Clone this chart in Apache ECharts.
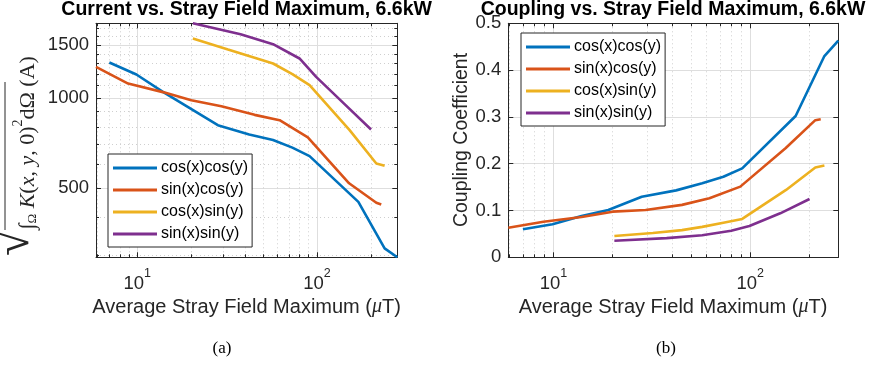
<!DOCTYPE html>
<html>
<head>
<meta charset="utf-8">
<script src="https://cdn.jsdelivr.net/npm/echarts@6/dist/echarts.min.js"></script>
<style>
html,body{margin:0;padding:0;background:#fff;}
#c{width:872px;height:366px;}
</style>
</head>
<body>
<div id="c"></div>
<script>
// ---- data ----
const seriesNames = ['cos(x)cos(y)', 'sin(x)cos(y)', 'cos(x)sin(y)', 'sin(x)sin(y)'];
const strayBlue   = [7.0, 9.9, 13.9, 19, 28.1, 42, 57, 73, 91, 170, 238, 280];
const currentBlue = [1311, 1196, 1047, 935, 811, 755, 724, 683, 640, 451, 316, 295];
const couplingBlue = [0.060, 0.0705, 0.088, 0.101, 0.1295, 0.143, 0.158, 0.172, 0.190, 0.302, 0.430, 0.463];

const strayRed   = [5.9, 8.9, 13.9, 20, 29.4, 45, 62, 89, 151, 214, 228];
const currentRed = [1268, 1116, 1045, 982, 938, 878, 843, 739, 520, 448, 442];
const couplingRed = [0.0633, 0.076, 0.086, 0.0975, 0.101, 0.112, 0.126, 0.151, 0.233, 0.293, 0.295];

const strayYellow   = [20.4, 32, 45, 57, 73, 91, 152, 214, 238];
const currentYellow = [1575, 1448, 1360, 1301, 1200, 1102, 781, 605, 595];
const couplingYellow = [0.0455, 0.052, 0.058, 0.065, 0.074, 0.082, 0.144, 0.192, 0.196];

const strayPurple   = [20.4, 37.6, 57, 80, 99, 142, 200];
const currentPurple = [1770, 1628, 1508, 1352, 1174, 955, 785];
const couplingPurple = [0.0355, 0.041, 0.047, 0.0568, 0.067, 0.094, 0.1246];

const xMajorTicks = [10, 100];
const xMinorTicks = [6, 7, 8, 9, 20, 30, 40, 50, 60, 70, 80, 90, 200];
const currentMajorTicks = [500, 1000, 1500];
const currentMinorTicks = [300, 400, 600, 700, 800, 900, 1100, 1200, 1300, 1400, 1600, 1700];
const xRange = [5.9, 280];
const currentRange = [295, 1770];
const couplingRange = [0, 0.5];

// ---- styling ----
const COLORS = ['#0072BD', '#D95319', '#EDB120', '#7E2F8E'];
const AX = '#262626';
const MAJ = '#dedede';
const MIN = '#cfcfcf';
const SANS = '"Liberation Sans", Arial, Helvetica, sans-serif';
const SERIF = '"Liberation Serif", "Times New Roman", serif';

function zip(xs, ys) { return xs.map((x, i) => [x, ys[i]]); }

function logXAxes(g) {
  const base = { gridIndex: g, type: 'log', logBase: 10, min: xRange[0], max: xRange[1] };
  return [
    Object.assign({}, base, {
      position: 'bottom',
      axisLine: { show: true, lineStyle: { color: AX, width: 1 } },
      axisTick: { show: true, inside: true, length: 5, customValues: xMajorTicks, lineStyle: { color: AX } },
      axisLabel: {
        show: true, customValues: xMajorTicks, margin: 10, color: AX,
        formatter: v => '{b|10}{s|' + Math.round(Math.log10(v)) + '}',
        rich: {
          b: { fontSize: 18.5, fontFamily: SANS, color: AX, lineHeight: 26, verticalAlign: 'bottom' },
          s: { fontSize: 12.5, fontFamily: SANS, color: AX, lineHeight: 14, verticalAlign: 'top' }
        }
      },
      splitLine: { show: true, lineStyle: { color: MAJ, width: 1 } }
    }),
    Object.assign({}, base, {
      position: 'bottom',
      axisLine: { show: false },
      axisTick: { show: true, inside: true, length: 3, customValues: xMinorTicks, lineStyle: { color: AX } },
      axisLabel: { show: false },
      splitLine: { show: true, lineStyle: { color: MIN, width: 1, type: [1, 3] } }
    }),
    Object.assign({}, base, {
      position: 'top',
      axisLine: { show: true, lineStyle: { color: AX, width: 1 } },
      axisTick: { show: true, inside: true, length: 5, customValues: xMajorTicks, lineStyle: { color: AX } },
      axisLabel: { show: false },
      splitLine: { show: false }
    }),
    Object.assign({}, base, {
      position: 'top',
      axisLine: { show: false },
      axisTick: { show: true, inside: true, length: 3, customValues: xMinorTicks, lineStyle: { color: AX } },
      axisLabel: { show: false },
      splitLine: { show: false }
    })
  ];
}

const yAxes = (function () {
  const base = { gridIndex: 0, type: 'log', logBase: 10, min: currentRange[0], max: currentRange[1] };
  const lin = { gridIndex: 1, type: 'value', min: couplingRange[0], max: couplingRange[1], interval: 0.1 };
  return [
    Object.assign({}, base, {
      position: 'left',
      axisLine: { show: true, lineStyle: { color: AX, width: 1 } },
      axisTick: { show: true, inside: true, length: 5, customValues: currentMajorTicks, lineStyle: { color: AX } },
      axisLabel: { show: true, customValues: currentMajorTicks, margin: 7, color: AX, fontSize: 18.5, fontFamily: SANS,
        formatter: v => String(Math.round(v)) },
      splitLine: { show: true, lineStyle: { color: MAJ, width: 1 } }
    }),
    Object.assign({}, base, {
      position: 'left',
      axisLine: { show: false },
      axisTick: { show: true, inside: true, length: 3, customValues: currentMinorTicks, lineStyle: { color: AX } },
      axisLabel: { show: false },
      splitLine: { show: true, lineStyle: { color: MIN, width: 1, type: [1, 3] } }
    }),
    Object.assign({}, base, {
      position: 'right',
      axisLine: { show: true, lineStyle: { color: AX, width: 1 } },
      axisTick: { show: true, inside: true, length: 5, customValues: currentMajorTicks, lineStyle: { color: AX } },
      axisLabel: { show: false },
      splitLine: { show: false }
    }),
    Object.assign({}, base, {
      position: 'right',
      axisLine: { show: false },
      axisTick: { show: true, inside: true, length: 3, customValues: currentMinorTicks, lineStyle: { color: AX } },
      axisLabel: { show: false },
      splitLine: { show: false }
    }),
    Object.assign({}, lin, {
      position: 'left',
      axisLine: { show: true, lineStyle: { color: AX, width: 1 } },
      axisTick: { show: true, inside: true, length: 5, lineStyle: { color: AX } },
      axisLabel: { show: true, margin: 7, color: AX, fontSize: 18.5, fontFamily: SANS },
      splitLine: { show: true, lineStyle: { color: MAJ, width: 1 } }
    }),
    Object.assign({}, lin, {
      position: 'right',
      axisLine: { show: true, lineStyle: { color: AX, width: 1 } },
      axisTick: { show: true, inside: true, length: 5, lineStyle: { color: AX } },
      axisLabel: { show: false },
      splitLine: { show: false }
    })
  ];
})();

const strays = [strayBlue, strayRed, strayYellow, strayPurple];
const currents = [currentBlue, currentRed, currentYellow, currentPurple];
const couplings = [couplingBlue, couplingRed, couplingYellow, couplingPurple];

const series = [];
seriesNames.forEach((name, i) => {
  series.push({
    name, type: 'line', xAxisIndex: 0, yAxisIndex: 0, data: zip(strays[i], currents[i]),
    showSymbol: false, symbol: 'none', color: COLORS[i],
    lineStyle: { width: 2.6, color: COLORS[i] }, z: 3 + i, animation: false
  });
});
seriesNames.forEach((name, i) => {
  series.push({
    name, type: 'line', xAxisIndex: 4, yAxisIndex: 4, data: zip(strays[i], couplings[i]),
    showSymbol: false, symbol: 'none', color: COLORS[i],
    lineStyle: { width: 2.6, color: COLORS[i] }, z: 3 + i, animation: false
  });
});

function legendAt(left, top) {
  return {
    orient: 'vertical', left, top, data: seriesNames, icon: 'rect',
    itemWidth: 44, itemHeight: 3, itemGap: 6,
    padding: [6, 4, 5, 5],
    backgroundColor: '#ffffff', borderColor: AX, borderWidth: 1, borderRadius: 0,
    selectedMode: false,
    textStyle: { fontSize: 16, fontFamily: SANS, color: '#000', lineHeight: 16, padding: [0, 0, 0, -1] },
    z: 20
  };
}

const xNameRich = {
  t: { fontSize: 20, fontFamily: SANS, fill: AX },
  m: { fontSize: 20, fontFamily: SERIF, fontStyle: 'italic', fill: AX }
};

const mathRich = {
  r: { fontSize: 22, fontFamily: SERIF, fill: AX, lineHeight: 28, verticalAlign: 'bottom' },
  rad: { fontSize: 48, fontFamily: SERIF, fill: AX, lineHeight: 28, verticalAlign: 'bottom' },
  i: { fontSize: 22, fontFamily: SERIF, fontStyle: 'italic', fill: AX, lineHeight: 28, verticalAlign: 'bottom' },
  sub: { fontSize: 13, fontFamily: SERIF, fill: AX, lineHeight: 13, verticalAlign: 'bottom' },
  sup: { fontSize: 14, fontFamily: SERIF, fill: AX, lineHeight: 15, verticalAlign: 'top' }
};

const graphic = [
  { type: 'text', x: 246.6, y: 10, style: { text: 'Current vs. Stray Field Maximum, 6.6kW', fontSize: 19.5, fontWeight: 'bold', fontFamily: SANS, fill: '#000', align: 'center', verticalAlign: 'middle' } },
  { type: 'text', x: 673, y: 10, style: { text: 'Coupling vs. Stray Field Maximum, 6.6kW', fontSize: 19.5, fontWeight: 'bold', fontFamily: SANS, fill: '#000', align: 'center', verticalAlign: 'middle' } },
  { type: 'text', x: 246.6, y: 307, style: { text: '{t|Average Stray Field Maximum (}{m|μ}{t|T)}', rich: xNameRich, align: 'center', verticalAlign: 'middle' } },
  { type: 'text', x: 673, y: 307, style: { text: '{t|Average Stray Field Maximum (}{m|μ}{t|T)}', rich: xNameRich, align: 'center', verticalAlign: 'middle' } },
  { type: 'text', x: 462, y: 140, rotation: Math.PI / 2, style: { text: 'Coupling Coefficient', fontSize: 19.5, fontFamily: SANS, fill: AX, align: 'center', verticalAlign: 'middle' } },
  { type: 'text', x: 25, y: 156, rotation: Math.PI / 2, style: {
      text: '{rad|√}{r|∫}{sub|Ω}{r| }{i|K}{r|(}{i|x}{r|, }{i|y}{r|, 0)}{sup|2}{r|dΩ (A)}',
      rich: mathRich, align: 'center', verticalAlign: 'middle' } },
  { type: 'line', shape: { x1: 5, y1: 82, x2: 5, y2: 230 }, style: { stroke: AX, lineWidth: 1 } },
  { type: 'text', x: 222, y: 349, style: { text: '(a)', fontSize: 17, fontFamily: SERIF, fill: '#000', align: 'center', verticalAlign: 'middle' } },
  { type: 'text', x: 666, y: 349, style: { text: '(b)', fontSize: 17, fontFamily: SERIF, fill: '#000', align: 'center', verticalAlign: 'middle' } }
];

const chart = echarts.init(document.getElementById('c'), null, { renderer: 'canvas' });
chart.setOption({
  animation: false,
  backgroundColor: '#ffffff',
  grid: [
    { left: 96, top: 23.3, width: 301.3, height: 234, outerBoundsMode: 'none', containLabel: false },
    { left: 508.3, top: 23.3, width: 330, height: 234, outerBoundsMode: 'none', containLabel: false }
  ],
  xAxis: logXAxes(0).concat(logXAxes(1)),
  yAxis: yAxes,
  legend: [legendAt(108, 154), legendAt(521, 33)],
  tooltip: { show: false },
  series,
  graphic
});
</script>
</body>
</html>
